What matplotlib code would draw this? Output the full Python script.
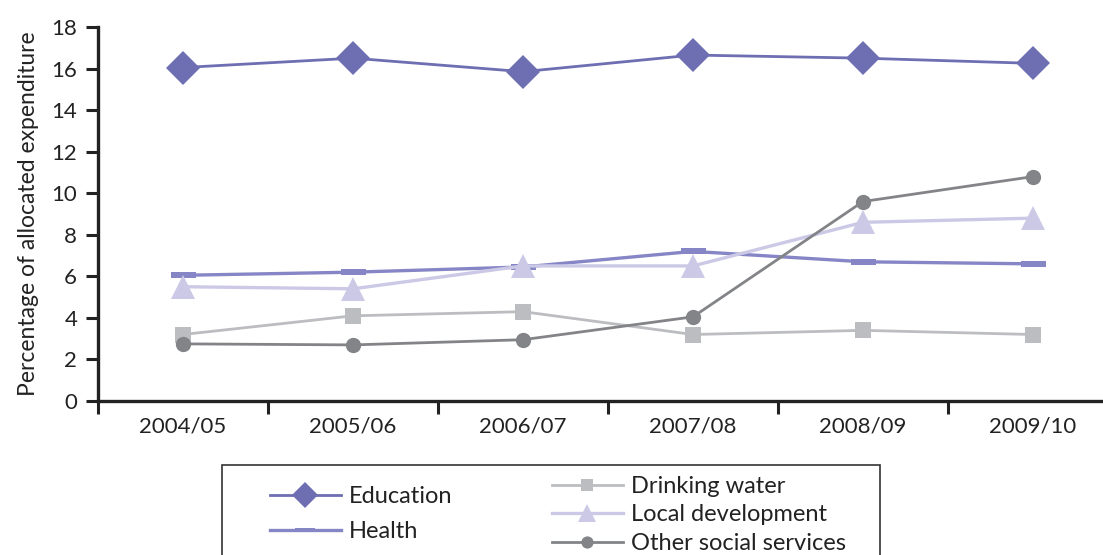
import matplotlib
matplotlib.use("Agg")
import matplotlib.pyplot as plt
from matplotlib.lines import Line2D
from matplotlib.patches import Rectangle

years = ["2004/05", "2005/06", "2006/07", "2007/08", "2008/09", "2009/10"]
education = [16.05, 16.5, 15.85, 16.65, 16.5, 16.25]
health = [6.05, 6.2, 6.45, 7.2, 6.7, 6.6]
drinking_water = [3.2, 4.1, 4.3, 3.2, 3.4, 3.2]
local_development = [5.5, 5.4, 6.5, 6.5, 8.6, 8.8]
other_social = [2.75, 2.7, 2.95, 4.05, 9.6, 10.8]

plt.rcParams['font.family'] = ['Lato', 'DejaVu Sans']

fig = plt.figure(figsize=(11.03, 5.55), dpi=100)
ax = fig.add_axes([98/1103, 1-401/555, 1020/1103, (401-27)/555])

bar_marker = [(-1, -0.22), (1, -0.22), (1, 0.22), (-1, 0.22), (-1, -0.22)]
x = list(range(len(years)))

styles = [
    ("Education", education, dict(color="#6e6eb2", marker="D", markersize=17, lw=2.0)),
    ("Health", health, dict(color="#8686c6", marker=bar_marker, markersize=18, lw=2.4)),
    ("Drinking water", drinking_water, dict(color="#bcbdc1", marker="s", markersize=11, lw=2.0)),
    ("Local development", local_development, dict(color="#cbc9e6", marker="^", markersize=17, lw=2.4)),
    ("Other social services", other_social, dict(color="#838488", marker="o", markersize=11, lw=2.0)),
]
lines = {}
for name, vals, st in styles:
    l, = ax.plot(x, vals, color=st["color"], lw=st["lw"], marker=st["marker"],
                 markersize=st["markersize"], markeredgewidth=0, label=name, zorder=3)
    lines[name] = l

ax.set_xlim(-0.5, len(years) - 0.5)
ax.set_ylim(0, 18)
ax.set_yticks(range(0, 19, 2))
ax.set_xticks([i + 0.5 for i in range(-1, len(years))], minor=False)
ax.set_xticklabels([])
ax.set_xticks(x, minor=True)
ax.set_xticklabels(years, minor=True)
ax.tick_params(axis='x', which='minor', length=0, pad=11, labelsize=16, colors="#222222")
ax.tick_params(axis='x', which='major', length=9, width=2.2, direction='out', color="#222222")
ax.tick_params(axis='y', length=9, width=2.2, direction='out', labelsize=16, colors="#222222", pad=6)
for s in ["top", "right"]:
    ax.spines[s].set_visible(False)
for s in ["left", "bottom"]:
    ax.spines[s].set_linewidth(2.4)
    ax.spines[s].set_color("#222222")
ax.set_ylabel("Percentage of allocated expenditure", fontsize=16.5, color="#222222", labelpad=9)

# legend frame
fig.patches.append(Rectangle((222/1103, -0.05), (880-222)/1103, 0.05 + 1-465/555,
                             transform=fig.transFigure, fill=False, edgecolor="#333333", lw=1.2))

h1 = [lines["Education"], lines["Health"]]
leg1 = fig.legend(h1, [h.get_label() for h in h1], loc="upper left",
                  bbox_to_anchor=(258/1103, 1-474/555), frameon=False, fontsize=17,
                  handlelength=3.0, handletextpad=0.35, labelspacing=0.6, borderpad=0)
h2 = [lines["Drinking water"], lines["Local development"], lines["Other social services"]]
leg2 = fig.legend(h2, [h.get_label() for h in h2], loc="upper left",
                  bbox_to_anchor=(540/1103, 1-464/555), frameon=False, fontsize=17,
                  handlelength=3.0, handletextpad=0.35, labelspacing=0.32, borderpad=0)
for leg in (leg1, leg2):
    for h in leg.legend_handles:
        h.set_markersize(h.get_markersize() * 0.8)
    for t in leg.get_texts():
        t.set_color("#222222")

fig.savefig("out.png", dpi=100)
